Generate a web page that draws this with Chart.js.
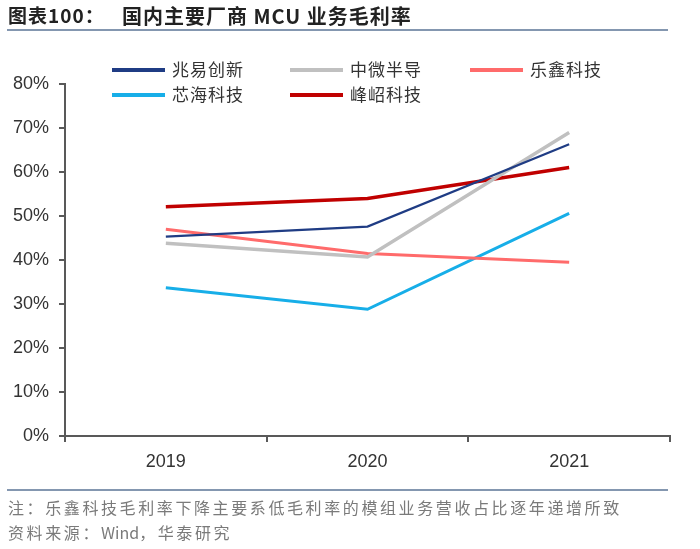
<!DOCTYPE html>
<html>
<head>
<meta charset="utf-8">
<script src="https://cdn.jsdelivr.net/npm/chart.js@4.4.1/dist/chart.umd.min.js"></script>
<style>
  html, body { margin: 0; padding: 0; background: #fff; }
  #wrap { position: relative; width: 700px; height: 549px; overflow: hidden; }
  #chart { position: absolute; left: 0; top: 0; }
  .title { position: absolute; top: 1px; font: bold 19px "Noto Sans CJK SC", sans-serif; color: #222; white-space: pre; letter-spacing: 1px; }
  .rule { position: absolute; left: 7px; width: 661px; height: 0; border-top: 2px solid #8497b0; }
  .note { position: absolute; left: 8px; font: 16px "Noto Sans CJK SC", sans-serif; color: #7a7a7a; letter-spacing: 2.6px; white-space: pre; }
  .note span { letter-spacing: 0; }
</style>
</head>
<body>
<div id="wrap">
  <canvas id="chart" width="700" height="549"></canvas>
  <div class="title" style="left:8px">图表100：</div>
  <div class="title" style="left:122px; font-size:20px">国内主要厂商 MCU 业务毛利率</div>
  <div class="rule" style="top:29px"></div>
  <div class="rule" style="top:489px"></div>
  <div class="note" style="top:495px">注：乐鑫科技毛利率下降主要系低毛利率的模组业务营收占比逐年递增所致</div>
  <div class="note" style="top:520px">资料来源：<span>Wind</span>，华泰研究</div>
</div>
<script>
// data (percent)
const years = ['2019', '2020', '2021'];
const zhaoyi = [45.3, 47.6, 66.3];     // 兆易创新
const zhongwei = [43.8, 40.7, 69.0];   // 中微半导
const lexin = [47.0, 41.5, 39.5];      // 乐鑫科技
const xinhai = [33.7, 28.8, 50.6];     // 芯海科技
const fengzhao = [52.1, 54.0, 61.0];   // 峰岹科技

const seriesNames = ['兆易创新', '中微半导', '乐鑫科技', '芯海科技', '峰岹科技'];
const seriesColors = ['#1f3c84', '#c0c0c0', '#ff6b6b', '#17aee8', '#c00000'];
const seriesWidths = [2.2, 3.5, 3, 3, 3.5];
const seriesData = [zhaoyi, zhongwei, lexin, xinhai, fengzhao];

// legend laid out in two rows, fixed columns
const legendSlots = [[112, 70], [290, 70], [470, 70], [112, 95], [290, 95]];

const legendPlugin = {
    id: 'gridLegend',
    afterDraw(chart) {
        const ctx = chart.ctx;
        ctx.save();
        chart.data.datasets.forEach((ds, i) => {
            const [x, y] = legendSlots[i];
            ctx.strokeStyle = ds.borderColor;
            ctx.lineWidth = 4;
            ctx.beginPath();
            ctx.moveTo(x, y);
            ctx.lineTo(x + 53, y);
            ctx.stroke();
            ctx.fillStyle = '#333';
            ctx.font = '17px "Noto Sans CJK SC", sans-serif';
            ctx.letterSpacing = '1px';
            ctx.textBaseline = 'middle';
            ctx.fillText(ds.label, x + 60, y);
        });
        ctx.restore();
    }
};

const axisColor = '#595959';
const tickFont = { family: '"Liberation Sans", Arial, sans-serif', size: 18 };

new Chart(document.getElementById('chart').getContext('2d'), {
    type: 'line',
    data: {
        labels: years,
        datasets: seriesData.map((d, i) => ({
            label: seriesNames[i],
            data: d,
            borderColor: seriesColors[i],
            backgroundColor: seriesColors[i],
            borderWidth: seriesWidths[i],
            pointRadius: 0,
            tension: 0,
            fill: false
        }))
    },
    plugins: [legendPlugin],
    options: {
        responsive: false,
        animation: false,
        layout: { padding: { top: 84, right: 30, left: 0, bottom: 73 } },
        plugins: { legend: { display: false }, tooltip: { enabled: false } },
        scales: {
            x: {
                offset: true,
                afterFit: (s) => { s.height = 40; },
                grid: { display: true, drawOnChartArea: false, offset: true, tickLength: 6, color: axisColor, lineWidth: 2 },
                border: { color: axisColor, width: 2 },
                ticks: { color: '#333', font: tickFont, padding: 9 }
            },
            y: {
                min: 0,
                max: 80,
                afterFit: (s) => { s.width = 65; },
                grid: { display: true, drawOnChartArea: false, tickLength: 6, color: axisColor, lineWidth: 2 },
                border: { color: axisColor, width: 2 },
                ticks: { stepSize: 10, color: '#333', font: tickFont, padding: 10, callback: (v) => v + '%' }
            }
        }
    }
});
</script>
</body>
</html>
